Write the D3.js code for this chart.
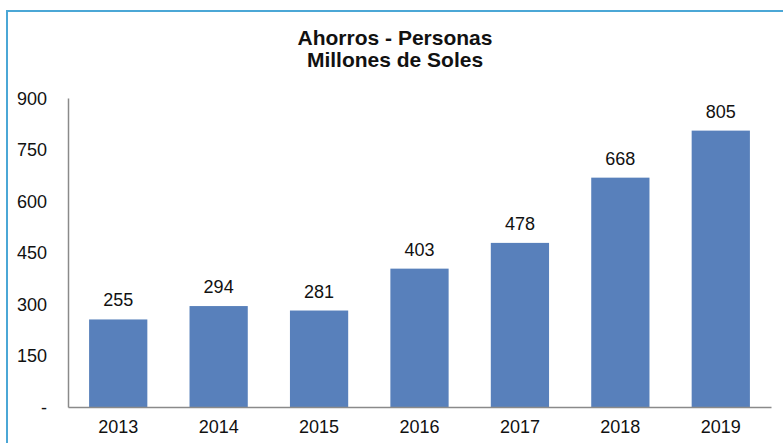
<!DOCTYPE html>
<html><head><meta charset="utf-8">
<script src="https://cdn.jsdelivr.net/npm/d3@7"></script>
<style>body{margin:0;background:#fff;}svg{display:block;}</style>
</head><body>
<script>
const categories = ["2013","2014","2015","2016","2017","2018","2019"];
const values = [255,294,281,403,478,668,805];
const yTicks = [0,150,300,450,600,750,900];
const titleLines = ["Ahorros - Personas","Millones de Soles"];

(function(){
const W=783,H=443;
const svg=d3.select("body").append("svg").attr("width",W).attr("height",H);
const font="Liberation Sans, Arial, sans-serif";
svg.append("path").attr("d",`M7,${H} L7,11 L${W},11`).attr("fill","none").attr("stroke","#4ba7d6").attr("stroke-width",2);

const mLeft=68,mRight=771,mTop=98,mBottom=407;
const x=d3.scaleBand().domain(categories).range([mLeft,mRight]).paddingInner(0.42).paddingOuter(0.21);
const y=d3.scaleLinear().domain([0,900]).range([mBottom,mTop]);

svg.selectAll("rect.bar").data(values).join("rect").attr("class","bar")
 .attr("x",(d,i)=>x(categories[i])).attr("width",x.bandwidth())
 .attr("y",d=>y(d)).attr("height",d=>y(0)-y(d)).attr("fill","#5880bb");

svg.selectAll("text.val").data(values).join("text").attr("class","val")
 .attr("x",(d,i)=>x(categories[i])+x.bandwidth()/2).attr("y",d=>y(d)-13)
 .attr("text-anchor","middle").attr("font-family",font).attr("font-size",18).attr("fill","#111").text(d=>d);

const yAxis=d3.axisLeft(y).tickValues(yTicks).tickSize(0).tickPadding(21).tickFormat(d=>d===0?"-":d);
const gy=svg.append("g").attr("transform",`translate(${mLeft},0)`).call(yAxis);
gy.select(".domain").attr("stroke","#8a8a8a").attr("stroke-width",1.5);
gy.selectAll("text").attr("font-family",font).attr("font-size",18).attr("fill","#111").attr("dy","0.36em");

const xAxis=d3.axisBottom(x).tickSize(0).tickPadding(13);
const gx=svg.append("g").attr("transform",`translate(0,${mBottom})`).call(xAxis);
gx.select(".domain").attr("stroke","#8a8a8a").attr("stroke-width",1.5);
gx.selectAll("text").attr("font-family",font).attr("font-size",18).attr("fill","#111");

svg.selectAll("text.title").data(titleLines).join("text").attr("class","title")
 .attr("x",395).attr("y",(d,i)=>45+i*22).attr("text-anchor","middle")
 .attr("font-family",font).attr("font-weight","bold").attr("font-size",21).attr("fill","#111").text(d=>d);
})();
</script>
</body></html>
